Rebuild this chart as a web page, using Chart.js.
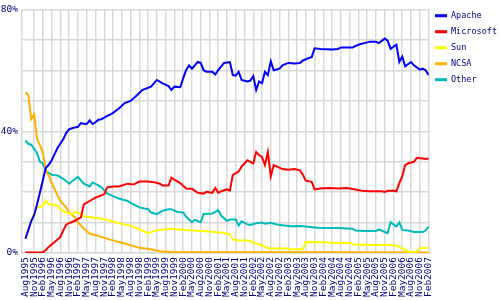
<!DOCTYPE html>
<html><head><meta charset="utf-8">
<script src="https://cdn.jsdelivr.net/npm/chart.js@4/dist/chart.umd.min.js"></script>
<style>html,body{margin:0;padding:0;background:#fff;}</style>
</head><body>
<canvas id="c" width="500" height="300"></canvas>
<script>
// Month index 0 = Aug 1995 (monthly survey); ticks every 3 months
const xTickLabels = ['Aug1995','Nov1995','Feb1996','May1996','Aug1996','Nov1996','Feb1997','May1997','Aug1997','Nov1997','Feb1998','May1998','Aug1998','Nov1998','Feb1999','May1999','Aug1999','Nov1999','Feb2000','May2000','Aug2000','Nov2000','Feb2001','May2001','Aug2001','Nov2001','Feb2002','May2002','Aug2002','Nov2002','Feb2003','May2003','Aug2003','Nov2003','Feb2004','May2004','Aug2004','Nov2004','Feb2005','May2005','Aug2005','Nov2005','Feb2006','May2006','Aug2006','Nov2006','Feb2007'];
const yTickLabels = ['0%','40%','80%'];
const seriesNames = ['Apache','Microsoft','Sun','NCSA','Other'];

const apache = [[0,4.7],[1,7.5],[2,10.5],[3,12.5],[4,16],[5,20],[6,24],[7,28],[8,29],[9,30.5],[10,32.5],[11,34.5],[12,36],[13,37.5],[14,39.5],[15,40.7],[16,41],[17,41.3],[18,41.5],[19,42.7],[20,42.5],[21,42.4],[22,43.6],[23,42.4],[24,43],[25,43.8],[26,44],[27,44.5],[28,45.1],[29,45.5],[30,46.1],[32,47.5],[34,49.3],[36,50],[38,51.7],[40,53.6],[43,54.7],[45,56.9],[47,55.8],[49,54.9],[50,53.6],[51,54.7],[53,54.5],[54,57.4],[55,60.1],[56,61.7],[57,60.6],[59,62.8],[60,62.5],[61,60.1],[62,59.6],[64,59.6],[65,58.7],[66,60.1],[68,62.5],[70,62.8],[71,58.5],[72,58.3],[73,59.6],[74,56.9],[76,56.4],[77,56.7],[78,58.2],[79,53.6],[80,56.4],[81,55.8],[82,59.6],[83,58.5],[84,63],[85,60.1],[87,60.6],[88,61.7],[90,62.5],[92,62.3],[94,62.5],[95,63.3],[97,64.1],[98,64.4],[99,67.3],[101,67.1],[105,66.9],[107,67.1],[108,67.6],[112,67.6],[114,68.5],[116,69],[118,69.5],[120,69.5],[121,69],[123,70.5],[124,69.8],[125,67.1],[126,67.8],[127,68.5],[128,62.8],[129,64.6],[130,61.4],[132,62.8],[133,61.7],[135,60.3],[136,60.6],[137,60.1],[138,58.5]];
const microsoft = [[0,0.2],[6,0.2],[7,1],[8,2],[10,3.6],[12,5.3],[13,7.5],[14,9.4],[15,9.8],[17,10.6],[18,11.2],[19,11.7],[20,16],[22,17.1],[24,18.2],[27,19.3],[28,21.6],[30,21.9],[32,21.9],[35,22.8],[37,22.5],[39,23.5],[42,23.5],[44,23.3],[46,22.8],[47,22.2],[49,22.2],[50,24.8],[51,24.1],[53,23],[55,21.2],[57,21.1],[59,19.8],[61,19.5],[62,20.1],[64,19.8],[65,21.4],[66,19.8],[67,20.3],[69,20.9],[70,20.5],[71,25.7],[73,26.8],[74,28.4],[76,30.5],[77,30],[78,29.5],[79,33.2],[80,32.2],[81,31.6],[82,28.9],[83,33.2],[84,25.2],[85,28.9],[86,28.5],[88,27.6],[90,27.4],[92,27.6],[94,27.2],[95,25.7],[96,23.8],[98,23.4],[99,20.9],[101,21.2],[104,21.4],[107,21.2],[110,21.4],[113,20.9],[115,20.5],[118,20.3],[122,20.3],[123,20.1],[124,20.5],[126,20.5],[127,20.3],[128,23],[129,25.2],[130,28.9],[131,29.5],[133,30],[134,31.3],[136,31.1],[137,30.9],[138,31.1]];
const sun = [[0,5.3],[1,7.4],[2,10.6],[3,13.3],[4,14.9],[6,15.5],[7,17.1],[8,16],[9,16],[11,15.5],[12,14.4],[14,13.3],[16,12.8],[17,13.5],[19,13],[20,12],[23,11.7],[27,11.2],[29,10.6],[32,9.8],[36,9],[39,7.8],[42,6.5],[44,7.2],[46,7.6],[50,8],[53,7.7],[57,7.4],[60,7.2],[65,6.9],[69,6.4],[70,6.2],[71,4.4],[73,4.2],[77,4],[78,3.3],[81,2.6],[83,1.5],[90,1.5],[91,1.2],[95,1.3],[96,3.6],[102,3.5],[106,3.3],[111,3.3],[112,2.8],[117,2.6],[125,2.6],[127,2.4],[130,1],[131,0.4],[134,0.4],[135,1.5],[138,1.7]];
const ncsa = [[0,52.8],[1,52],[2,44],[3,45.6],[4,37.5],[5,35.4],[6,33],[7,27],[8,25.5],[9,23],[10,21],[11,19],[12,17.1],[14,14.9],[15,13.3],[17,11.7],[18,10.1],[20,8],[22,6.4],[26,5.3],[29,4.4],[33,3.4],[36,2.6],[39,1.7],[43,1.2],[46,0.6],[50,0.3],[138,0.2]];
const other = [[0,37],[1,35.9],[2,35.6],[3,34.3],[4,32.7],[5,30],[6,29.5],[7,27],[9,25.7],[11,25.5],[13,24.4],[15,22.8],[16,23.6],[18,25],[19,23.9],[20,22.8],[22,21.9],[23,23.2],[25,22.2],[26,21.6],[28,19.6],[30,18.7],[32,17.9],[35,17.1],[36,16.5],[37,16],[39,15],[42,14.4],[43,13.3],[45,12.8],[47,13.9],[49,14.4],[50,14.4],[52,13.5],[54,13.3],[55,11.9],[57,10.1],[58,10.9],[60,10.1],[61,12.8],[64,13],[65,13.5],[66,14.1],[67,12.3],[69,10.6],[70,11],[72,11],[73,9],[74,10.4],[76,9.4],[77,9.2],[79,9.8],[81,10],[82,9.6],[84,9.9],[86,9.4],[88,9.1],[91,8.8],[94,8.9],[96,8.7],[98,8.5],[100,8.3],[107,8.2],[112,8],[113,7.4],[116,7.2],[120,7.2],[121,7.8],[123,6.9],[124,6.5],[125,10.1],[127,8.7],[128,10.1],[129,7.6],[131,7.4],[133,6.9],[136,6.9],[137,7.4],[138,8.7]];

const seriesData = [apache, microsoft, sun, ncsa, other];
const seriesColors = ['#0000ff','#ff0000','#ffff00','#ffb000','#00bbbb'];
const navy = '#000080';
const gridColor = '#d9d9d9';
const monoFont = '"DejaVu Sans Mono", "Liberation Mono", monospace';

const sideLegend = {
  id: 'sideLegend',
  afterDraw(chart) {
    const c = chart.ctx;
    const x0 = chart.chartArea.right + 5;
    c.save();
    c.font = '8.5px ' + monoFont;
    c.textBaseline = 'middle';
    c.textAlign = 'left';
    chart.data.datasets.forEach((ds, i) => {
      const y = chart.chartArea.top + 6 + i * 16;
      c.fillStyle = ds.borderColor;
      c.fillRect(x0, y - 1.5, 12, 3);
      c.fillStyle = navy;
      c.fillText(ds.label, x0 + 16, y + 0.5);
    });
    c.restore();
  }
};

new Chart(document.getElementById('c'), {
  type: 'line',
  data: {
    datasets: seriesData.map((d, i) => ({
      label: seriesNames[i],
      data: d.map(p => ({x: p[0], y: p[1]})),
      borderColor: seriesColors[i],
      backgroundColor: seriesColors[i],
      borderWidth: 2,
      pointRadius: 0,
      tension: 0,
      fill: false
    }))
  },
  options: {
    responsive: false,
    animation: false,
    events: [],
    layout: {padding: {left: 0, right: 70, top: 5, bottom: 0}},
    plugins: {legend: {display: false}, tooltip: {enabled: false}},
    scales: {
      x: {
        type: 'linear',
        min: -1.16,
        max: 138.5,
        afterBuildTicks: s => { s.ticks = xTickLabels.map((l, i) => ({value: i * 3})); },
        afterFit: s => { s.height = 47; },
        grid: {
          color: c => (c.tick && c.tick.value === 0) ? 'rgba(0,0,0,0)' : gridColor,
          lineWidth: 1.5,
          drawTicks: false
        },
        border: {color: gridColor, width: 1.5},
        ticks: {
          autoSkip: false,
          maxRotation: 90,
          minRotation: 90,
          padding: 4,
          color: navy,
          font: {family: monoFont, size: 9.5},
          callback: v => xTickLabels[Math.round(v / 3)]
        }
      },
      y: {
        min: 0,
        max: 80,
        afterFit: s => { s.width = 22; },
        grid: {color: gridColor, lineWidth: 1.5, drawTicks: false},
        border: {color: gridColor, width: 1.5},
        ticks: {
          stepSize: 10,
          padding: 4,
          color: navy,
          font: {family: monoFont, size: 9.5},
          callback: v => (v % 40 === 0) ? yTickLabels[v / 40] : ''
        }
      }
    }
  },
  plugins: [sideLegend]
});
</script>
</body></html>
